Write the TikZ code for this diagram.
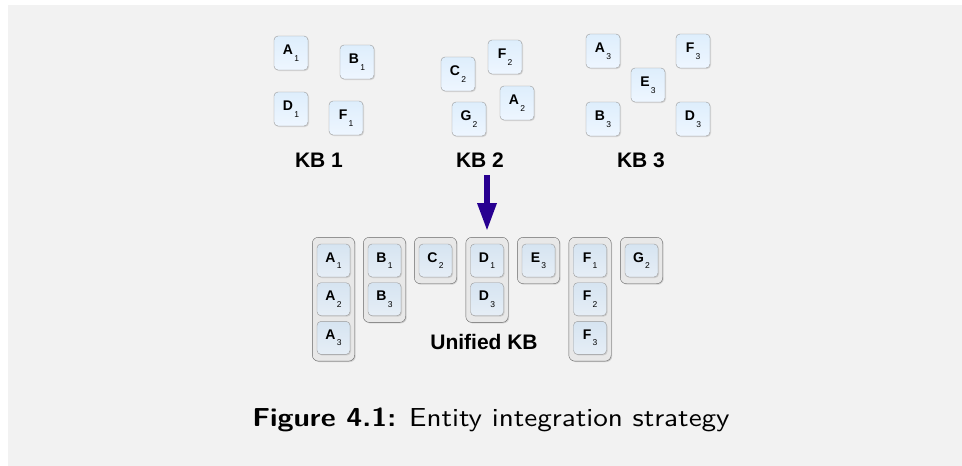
\documentclass[tikz,border=0pt]{standalone}
\usepackage{fontspec}
\newfontfamily\arialfont{Liberation Sans}
\newfontfamily\capfont{lmsans10-regular.otf}[BoldFont=lmsans10-bold.otf,FakeStretch=1.12]
\usetikzlibrary{shapes,arrows.meta,fit,positioning,shadows,backgrounds}
\definecolor{bggray}{RGB}{242,242,242}
\definecolor{tiletop}{RGB}{222,238,252}
\definecolor{tilebot}{RGB}{238,246,255}
\definecolor{celltop}{RGB}{214,228,241}
\definecolor{cellbot}{RGB}{230,238,246}
\definecolor{framefill}{RGB}{232,232,232}
\definecolor{arrowblue}{RGB}{40,0,145}
\def\Ent#1#2{\textbf{#1}\kern1.2pt\raisebox{-6.5pt}{\fontsize{8.5}{8.5}\selectfont #2}}

\begin{document}
\begin{tikzpicture}[x=1pt,y=-1pt,% pixel grid of the page, y downwards
			every node/.style={
				font=\arialfont\fontsize{14}{14}\selectfont
			},
			tile/.style={% loose entity of one KB
				rectangle,rounded corners=4pt,draw=gray!80,thin,
				top color=tiletop,bottom color=tilebot,
				minimum size=34pt,inner sep=0pt,
				drop shadow={shadow xshift=1pt,shadow yshift=-1pt,opacity=.25}
			},
			cell/.style={% entity inside the unified KB
				tile,minimum size=33pt,top color=celltop,bottom color=cellbot
			},
			group/.style={% frame round entities that are merged
				rectangle,rounded corners=6pt,draw=gray!120,thin,fill=framefill,
				inner xsep=4.5pt,inner ysep=6.5pt,
				drop shadow={shadow xshift=1pt,shadow yshift=-1pt,opacity=.3}
			},
			kblabel/.style={font=\arialfont\bfseries\fontsize{21}{21}\selectfont,inner sep=0pt,anchor=base},
			bigarrow/.style={draw=arrowblue,line width=6pt,-{Triangle[width=18pt,length=28pt]}}
		]
		\useasboundingbox (0,0) rectangle (962,466);
		\begin{scope}[on background layer]
		\fill[bggray] (8,5) rectangle (962,466);
		\end{scope}
		% KB 1
		\node[tile](A1) at (291,53) {\Ent A1};
		\node[tile](B1) at (357,62) {\Ent B1};
		\node[tile](D1) at (291,109) {\Ent D1};
		\node[tile](F1) at (346,118) {\Ent F1};
		\node[kblabel](kb1) at (319,167) {KB 1};
		% KB 2
		\node[tile](C2) at (458,74) {\Ent C2};
		\node[tile](F2) at (505,57) {\Ent F2};
		\node[tile](A2) at (517,103) {\Ent A2};
		\node[tile](G2) at (469,119) {\Ent G2};
		\node[kblabel](kb2) at (480,167) {KB 2};
		% KB 3
		\node[tile](A3) at (603,51) {\Ent A3};
		\node[tile](F3) at (693,51) {\Ent F3};
		\node[tile](E3) at (648,85) {\Ent E3};
		\node[tile](B3) at (603,119) {\Ent B3};
		\node[tile](D3) at (693,119) {\Ent D3};
		\node[kblabel](kb3) at (641,167) {KB 3};
		% unified KB
		\node[cell](uA1) at (333.5,260.5) {\Ent A1};
		\node[cell](uA2)[below=5.3pt of uA1] {\Ent A2};
		\node[cell](uA3)[below=5.3pt of uA2] {\Ent A3};
		\node[cell](uB1) at (384.5,260.5) {\Ent B1};
		\node[cell](uB3)[below=5.3pt of uB1] {\Ent B3};
		\node[cell](uC2) at (435.5,260.5) {\Ent C2};
		\node[cell](uD1) at (487,260.5) {\Ent D1};
		\node[cell](uD3)[below=5.3pt of uD1] {\Ent D3};
		\node[cell](uE3) at (538.5,260.5) {\Ent E3};
		\node[cell](uF1) at (590,260.5) {\Ent F1};
		\node[cell](uF2)[below=5.3pt of uF1] {\Ent F2};
		\node[cell](uF3)[below=5.3pt of uF2] {\Ent F3};
		\node[cell](uG2) at (641.5,260.5) {\Ent G2};
		\begin{scope}[on background layer]
		\node[group,fit=(uA1)(uA3)](GA){};
		\node[group,fit=(uB1)(uB3)](GB){};
		\node[group,fit=(uC2)](GC){};
		\node[group,fit=(uD1)(uD3)](GD){};
		\node[group,fit=(uE3)](GE){};
		\node[group,fit=(uF1)(uF3)](GF){};
		\node[group,fit=(uG2)](GG){};
		\end{scope}
		\node[kblabel](ukb) at (484,349) {Unified KB};
		\draw[bigarrow,shorten <=8pt,shorten >=6pt] (kb2.south -| GD.north) -- (GD.north);
		% caption
		\node[font=\capfont\fontsize{26}{26}\selectfont](cap) at (491,420) {\textbf{Figure 4.1:} Entity integration strategy};
	\end{tikzpicture}
\end{document}
